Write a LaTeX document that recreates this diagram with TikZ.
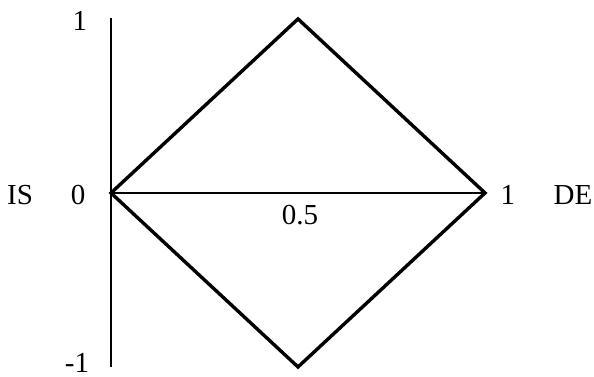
\documentclass[tikz,border=0pt]{standalone}
\usepackage{fontspec}
\setmainfont{Liberation Serif}
\usepackage{tikz}
\usetikzlibrary{positioning}
\tikzset{
  axisline/.style={line width=0.75pt,draw=black},
  edgeline/.style={line width=1.7pt,draw=black,line join=miter},
  ticklabel/.style={inner sep=0pt,font=\fontsize{14.5}{17}\selectfont}
}
\begin{document}
\begin{tikzpicture}[x=187pt,y=87pt]
  \useasboundingbox (-0.2968,-1.052) rectangle (1.2914,1.109);
  % corners of the diamond and ends of the vertical axis
  \coordinate (is) at (0,0);
  \coordinate (de) at (1,0);
  \coordinate (top) at (0.5,1);
  \coordinate (bottom) at (0.5,-1);
  \coordinate (axtop) at (0,1.006);
  \coordinate (axbottom) at (0,-1.0);

  \draw[axisline] (axtop) -- (axbottom);
  \draw[axisline] (is) -- (de);
  \draw[edgeline] (is) -- (top) -- (de) -- (bottom) -- cycle;

  \node[ticklabel] (lone) at (-0.083,0.99) {1};
  \node[ticklabel] (lminus) at (-0.091,-0.975) {-1};
  \node[ticklabel] (lzero) at (-0.088,-0.01) {0};
  \node[ticklabel] (lis) at (-0.243,-0.01) {IS};
  \node[ticklabel] (lhalf) at (0.505,-0.126) {0.5};
  \node[ticklabel] (rone) at (1.061,-0.01) {1};
  \node[ticklabel] (lde) at (1.235,-0.01) {DE};
\end{tikzpicture}
\end{document}
